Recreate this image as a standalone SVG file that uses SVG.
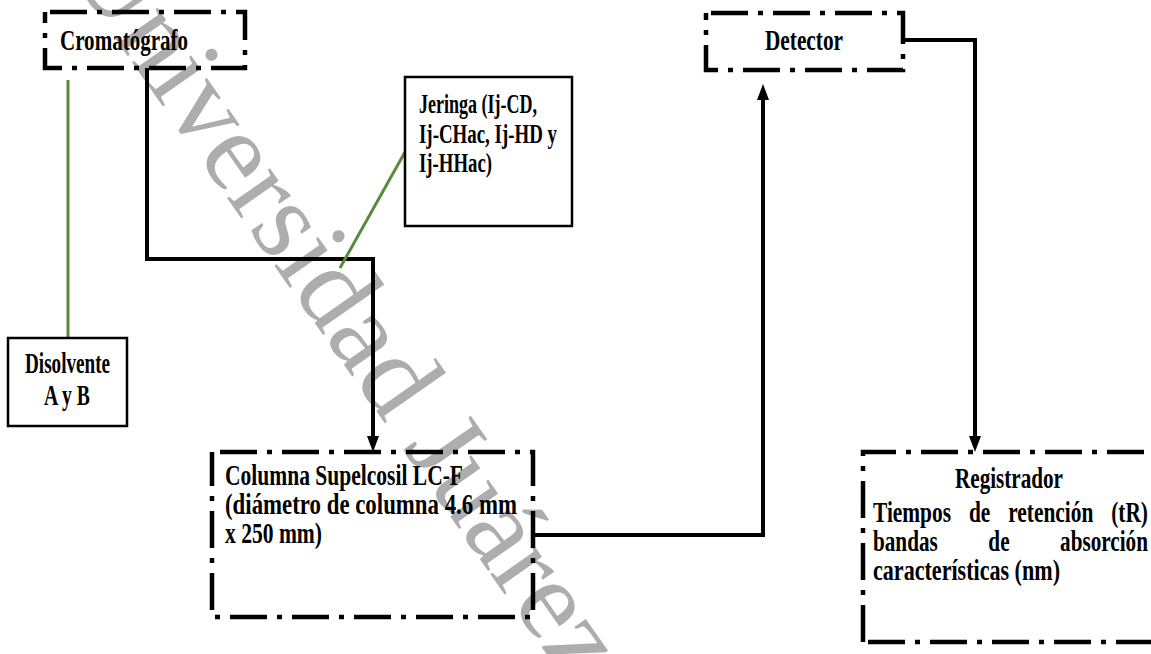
<svg xmlns="http://www.w3.org/2000/svg" width="1151" height="654" viewBox="0 0 1151 654">
<style>
.dd{fill:none;stroke:#000;stroke-width:4.5;stroke-dasharray:37 10 5 10;}
.solid{fill:#fff;stroke:#000;stroke-width:2.5;}
.con{fill:none;stroke:#000;stroke-width:4;}
.grn{fill:none;stroke:#5A8A3C;stroke-width:3;}
.t{font-family:"Liberation Serif","Times New Roman",serif;font-weight:bold;font-size:29px;fill:#000;}
.s{font-size:27px;}
.wm{font-family:"Liberation Serif","Times New Roman",serif;font-size:114px;fill:#ADADAD;}
</style>
<defs>
<marker id="arr" markerUnits="userSpaceOnUse" markerWidth="18" markerHeight="14" refX="0" refY="7" orient="auto">
<path d="M0,1 L16,7 L0,13 z" fill="#000"/>
</marker>
</defs>
<rect width="1151" height="654" fill="#fff"/>
<text class="wm" transform="translate(66,-32) rotate(55)">Universidad Juárez</text>
<g id="connectors">
<path class="con" d="M147,68 V259 H373 V436" marker-end="url(#arr)"/>
<path class="con" d="M535,535 H763 V100" marker-end="url(#arr)"/>
<path class="con" d="M903,40 H975 V436" marker-end="url(#arr)"/>
<path class="grn" d="M68,80 V338"/>
<path class="grn" d="M405,152 L340,268"/>
</g>
<g id="cromatografo">
<path class="dd" d="M45,12 H245 V68 H45 Z" stroke-dashoffset="-5"/>
<text class="t" x="60" y="50" textLength="128" lengthAdjust="spacingAndGlyphs">Cromatógrafo</text>
</g>
<g id="detector">
<path class="dd" d="M706,13 H903 V70 H706 Z" stroke-dashoffset="-5"/>
<text class="t" x="765" y="50" textLength="78" lengthAdjust="spacingAndGlyphs">Detector</text>
</g>
<g id="jeringa">
<rect class="solid" x="405" y="77" width="167" height="149"/>
<text class="t s" x="419" y="113" textLength="118" lengthAdjust="spacingAndGlyphs">Jeringa (Ij-CD,</text>
<text class="t s" x="419" y="143" textLength="138" lengthAdjust="spacingAndGlyphs">Ij-CHac, Ij-HD y</text>
<text class="t s" x="419" y="172" textLength="73" lengthAdjust="spacingAndGlyphs">Ij-HHac)</text>
</g>
<g id="disolvente">
<rect class="solid" x="8" y="338" width="119" height="88"/>
<text class="t" x="25" y="373" textLength="85" lengthAdjust="spacingAndGlyphs">Disolvente</text>
<text class="t" x="44" y="405" textLength="46" lengthAdjust="spacingAndGlyphs">A y B</text>
</g>
<g id="columna">
<path class="dd" d="M212,452 H533 V617 H212 Z" stroke-dashoffset="-8"/>
<text class="t" x="225" y="485" textLength="238" lengthAdjust="spacingAndGlyphs">Columna Supelcosil LC-F</text>
<text class="t" x="225" y="514" textLength="292" lengthAdjust="spacingAndGlyphs">(diámetro de columna  4.6 mm</text>
<text class="t" x="225" y="543" textLength="97" lengthAdjust="spacingAndGlyphs">x 250 mm)</text>
</g>
<g id="registrador">
<path class="dd" d="M863,642 V452 H1190 V642 Z" stroke-dashoffset="0"/>
<text class="t" x="955" y="488" textLength="108" lengthAdjust="spacingAndGlyphs">Registrador</text>
<text class="t" x="873" y="522" word-spacing="17" textLength="275" lengthAdjust="spacingAndGlyphs">Tiempos de retención (tR)</text>
<text class="t" x="873" y="551" word-spacing="62" textLength="275" lengthAdjust="spacingAndGlyphs">bandas de absorción</text>
<text class="t" x="873" y="580" textLength="187" lengthAdjust="spacingAndGlyphs">características (nm)</text>
</g>
</svg>
